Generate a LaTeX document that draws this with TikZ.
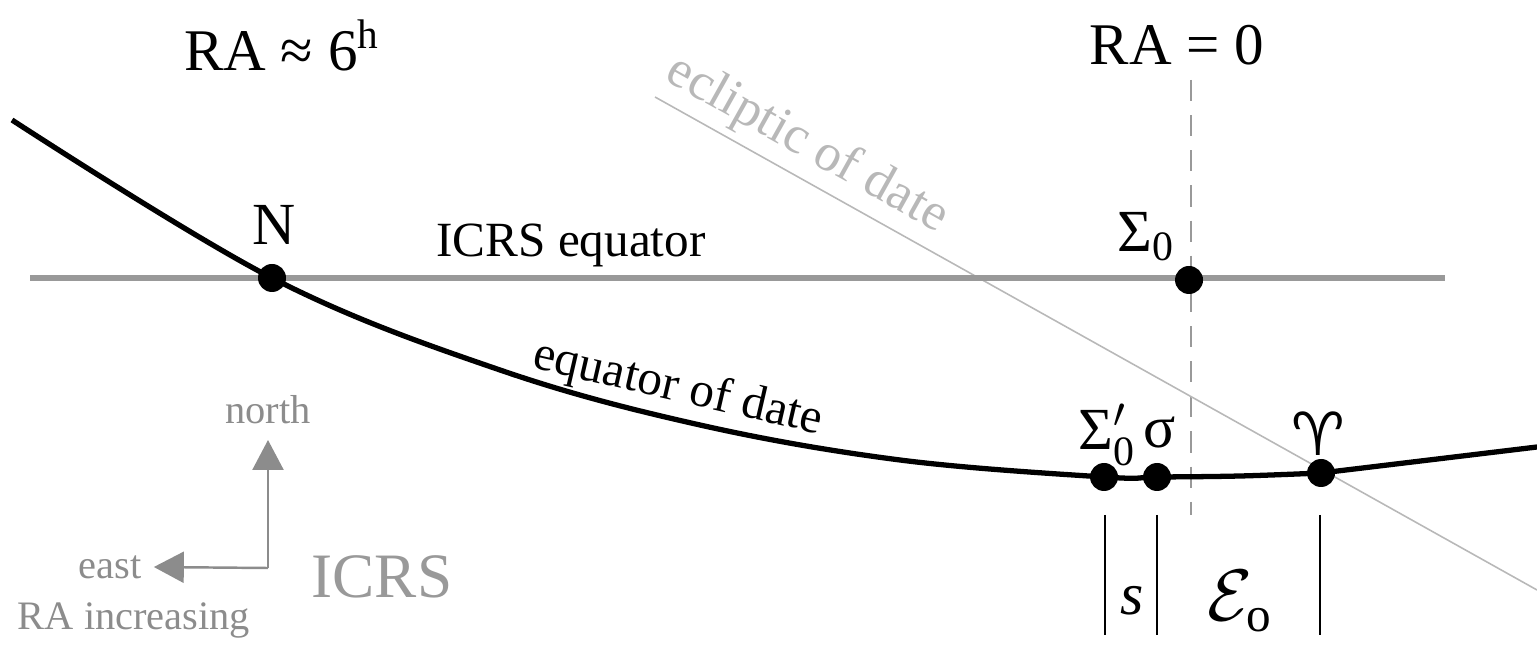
\documentclass[tikz,border=0pt]{standalone}
\usepackage{fontspec}
\usepackage{amsmath}
\setmainfont{Liberation Serif}
\newfontfamily\symfont{DejaVu Sans}
\usetikzlibrary{arrows.meta,positioning,calc}
\definecolor{ink}{HTML}{000000}
\definecolor{eqgray}{HTML}{999999}
\definecolor{eclgray}{HTML}{B8B8B8}
\definecolor{labgray}{HTML}{8C8C8C}
\tikzset{
  every node/.style={font=\rmfamily\fontsize{14}{16}\selectfont, text=ink},
  dot/.style={circle, fill=ink, inner sep=0pt, minimum size=2.8mm},
  bigtext/.style={font=\rmfamily\fontsize{16.8}{20}\selectfont},
  ptlabel/.style={font=\rmfamily\fontsize{17}{19}\selectfont},
  greytext/.style={font=\rmfamily\fontsize{11.5}{13}\selectfont, text=labgray},
  icrsline/.style={draw=eqgray, line width=1.9pt},
  dateline/.style={draw=ink, line width=1.5pt},
  eclline/.style={draw=eclgray, line width=0.45pt},
  raline/.style={draw=eqgray, line width=0.6pt, dash pattern=on 6pt off 4pt},
  tick/.style={draw=ink, line width=0.6pt},
  dirarrow/.style={-{Triangle[length=3mm,width=3.1mm]}, line width=0.7pt, draw=labgray},
}
\begin{document}
\begin{tikzpicture}
\useasboundingbox (0,0) rectangle (15.37,6.47);
% headings
\node[bigtext] (ra6) at (2.82,6.02) {RA ≈ 6\textsuperscript{h}};
\node[bigtext] (ra0) at (11.77,6.02) {RA = 0};
% RA = 0 meridian and ecliptic
\coordinate (mtop) at (11.91,5.67);
\coordinate (mbot) at (11.91,1.32);
\draw[raline] (mtop) -- (mbot);
\coordinate (ecla) at (6.55,5.50);
\coordinate (eclb) at (15.37,0.57);
\draw[eclline] (ecla) -- (eclb);
\node[font=\rmfamily\fontsize{15}{17}\selectfont, text=eclgray, rotate=-29.2] (ecltxt) at (8.07,5.02) {ecliptic of date};
% ICRS equator
\coordinate (icrsa) at (0.30,3.69);
\coordinate (icrsb) at (14.45,3.69);
\draw[icrsline] (icrsa) -- (icrsb);
\node (icrstxt) at (5.71,4.02) {ICRS equator};
% equator of date
\coordinate (start) at (0.12,5.27);
\coordinate (N) at (2.72,3.69);
\coordinate (Sp) at (11.04,1.70);
\coordinate (sig) at (11.57,1.70);
\coordinate (ari) at (13.21,1.74);
\coordinate (end) at (15.37,2.00);
\draw[dateline] plot[smooth, tension=0.6] coordinates {(start) (N) (5.0,2.77) (7.0,2.22) (9.0,1.87) (Sp) (sig) (12.4,1.71) (ari)} -- (end);
\node[rotate=-13] (datetxt) at (6.78,2.58) {equator of date};
% points
\node[dot] (Ndot) at (N) {};
\node[dot] (S0dot) at (11.89,3.67) {};
\node[dot] (Spdot) at (Sp) {};
\node[dot] (sigdot) at (sig) {};
\node[dot] (aridot) at (ari) {};
\node[ptlabel] (Nlab) at (2.74,4.22) {N};
\node[ptlabel] (S0lab) at (11.46,4.10) {Σ\textsubscript{0}};
\node[ptlabel] (Splab) at (11.07,2.12) {Σ$'_{\text{0}}$};
\node[ptlabel] (siglab) at (11.60,2.14) {σ};
\node[font=\symfont\fontsize{17}{19}\selectfont] (arilab) at (13.18,2.13) {♈};
% arc markers
\draw[tick] (11.05,1.32) -- (11.05,0.12);
\draw[tick] (11.57,1.32) -- (11.57,0.12);
\draw[tick] (13.20,1.32) -- (13.20,0.12);
\node[ptlabel] (slab) at (11.32,0.46) {\textit{s}};
\node[font=\fontsize{20}{22}\selectfont] (elab) at (12.40,0.46) {$\mathcal{E}_{\text{o}}$};
% compass
\coordinate (corner) at (2.68,0.79);
\node[greytext] (north) at (2.68,2.37) {north};
\node[greytext] (east) at (1.10,0.80) {east};
\node[greytext] (rainc) at (1.34,0.27) {RA increasing};
\draw[dirarrow] (corner) -- (2.68,2.07);
\draw[dirarrow] (corner) -- (east.east);
\node[font=\rmfamily\fontsize{18}{20}\selectfont, text=eqgray] (icrs) at (3.82,0.70) {ICRS};
\end{tikzpicture}
\end{document}
